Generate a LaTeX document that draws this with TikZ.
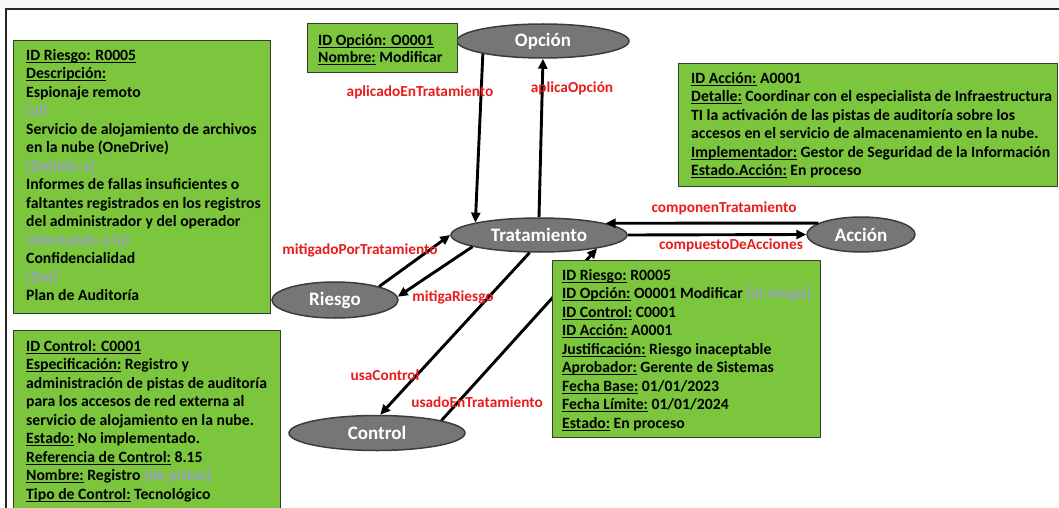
\documentclass[tikz,border=0pt]{standalone}
\usepackage{fontspec}
\setmainfont{Carlito}
\usetikzlibrary{arrows.meta,shapes.geometric}
\definecolor{boxgreen}{RGB}{124,198,62}
\definecolor{boxline}{RGB}{55,60,50}
\definecolor{nodegray}{RGB}{118,118,118}
\definecolor{nodeline}{RGB}{60,60,60}
\definecolor{relred}{RGB}{232,28,28}
\definecolor{note}{RGB}{150,162,188}
% field names: underline at a fixed depth just below the baseline
\newsavebox\fldbox
\newcommand{\fld}[1]{\sbox\fldbox{#1}\rlap{\rule[-2.3pt]{\wd\fldbox}{0.9pt}}\usebox\fldbox}
\newcommand{\nota}[1]{{\color{note}#1}}

\begin{document}
\begin{tikzpicture}[x=1pt,y=-1pt,
  card/.style={draw=boxline, line width=1.2pt, fill=boxgreen, inner sep=0pt, anchor=north west},
  cardtext/.style={anchor=north west, inner sep=0pt, align=left,
                   font=\fontsize{15.7}{18.5}\selectfont\bfseries},
  entity/.style={ellipse, draw=nodeline, line width=1.5pt, fill=nodegray, text=white,
                 font=\fontsize{19}{22}\selectfont\bfseries, inner sep=0pt},
  rel/.style={-{Triangle[length=10pt,width=9pt]}, line width=2.9pt},
  rellabel/.style={text=relred, font=\fontsize{15.3}{17}\selectfont\bfseries, inner sep=0pt}
]
% canvas and frame
\useasboundingbox (0,0) rectangle (1059,508);
\fill[white] (0,0) rectangle (1059,508);
\fill[gray!6] (0,0) rectangle (1059,9);
\draw[line width=1.5pt, black!85] (5,9) -- (1059,9);
\draw[line width=1.5pt, black!85] (6,9) -- (6,508);

% entities
\node[entity, minimum width=172pt, minimum height=34pt] (opcion)  at (543,41)    {Opción};
\node[entity, minimum width=176pt, minimum height=34pt] (trat)    at (539,235)   {Tratamiento};
\node[entity, minimum width=126pt, minimum height=36pt] (riesgo)  at (335,300)   {Riesgo};
\node[entity, minimum width=176pt, minimum height=35pt] (control) at (377,433)   {Control};
\node[entity, minimum width=108pt, minimum height=35pt] (accion)  at (861,234.5) {Acción};

% relations
\draw[rel] (opcion.192) -- (trat.169);
\draw[rel] (trat.north) -- (opcion.south);
\draw[rel] (riesgo.17) -- (trat.west);
\draw[rel] (trat.190) -- (riesgo.3);
\draw[rel] (trat.242) -- (control.80);
\draw[rel] (control.11) -- (trat.347);
\draw[rel] (accion.165) -- (trat.10);
\draw[rel] (trat.east) -- (accion.west);

% relation names
\node[rellabel] (l1) at (420,92)  {aplicadoEnTratamiento};
\node[rellabel] (l2) at (572,88)  {aplicaOpción};
\node[rellabel] (l3) at (360,250) {mitigadoPorTratamiento};
\node[rellabel] (l4) at (453,297) {mitigaRiesgo};
\node[rellabel] (l5) at (385,375) {usaControl};
\node[rellabel] (l6) at (477,402) {usadoEnTratamiento};
\node[rellabel] (l7) at (724,208) {componenTratamiento};
\node[rellabel] (l8) at (731,245) {compuestoDeAcciones};

% risk card
\node[card, minimum width=257pt, minimum height=273pt] (riskcard) at (13,40) {};
\node[cardtext] (risktext) at (26,49) {%
\fld{ID Riesgo: R0005}\\
\fld{Descripción:}\\
Espionaje remoto\\
\nota{[al]}\\
Servicio de alojamiento de archivos\\
en la nube (OneDrive)\\
\nota{[Debido a]}\\
Informes de fallas insuficientes o\\
faltantes registrados en los registros\\
del administrador y del operador\\
\nota{[Afectando a la]}\\
Confidencialidad\\
\nota{[Del]}\\
Plan de Auditoría};

% control card
\node[card, minimum width=267pt, minimum height=180pt] (ctrlcard) at (13,330) {};
\node[cardtext] (ctrltext) at (26,340) {%
\fld{ID Control: C0001}\\
\fld{Especificación:} Registro y\\
administración de pistas de auditoría\\
para los accesos de red externa al\\
servicio de alojamiento en la nube.\\
\fld{Estado:} No implementado.\\
\fld{Referencia de Control:} 8.15\\
\fld{Nombre:} Registro \nota{(de pistas)}\\
\fld{Tipo de Control:} Tecnológico};

% option card
\node[card, minimum width=150pt, minimum height=49pt] (optcard) at (307,23) {};
\node[cardtext, font=\fontsize{15.7}{17}\selectfont\bfseries] (opttext) at (318,34) {%
\fld{ID Opción: O0001}\\
\fld{Nombre:} Modificar};

% action card
\node[card, minimum width=379pt, minimum height=123pt] (actcard) at (678,63) {};
\node[cardtext] (acttext) at (691,72) {%
\fld{ID Acción:} A0001\\
\fld{Detalle:} Coordinar con el especialista de Infraestructura\\
TI la activación de las pistas de auditoría sobre los\\
accesos en el servicio de almacenamiento en la nube.\\
\fld{Implementador:} Gestor de Seguridad de la Información\\
\fld{Estado.Acción:} En proceso};

% treatment card
\node[card, minimum width=268pt, minimum height=177pt] (tratcard) at (552,260) {};
\node[cardtext] (trattext) at (562,269) {%
\fld{ID Riesgo:} R0005\\
\fld{ID Opción:} O0001 Modificar \nota{[al riesgo]}\\
\fld{ID Control:} C0001\\
\fld{ID Acción:} A0001\\
\fld{Justificación:} Riesgo inaceptable\\
\fld{Aprobador:} Gerente de Sistemas\\
\fld{Fecha Base:} 01/01/2023\\
\fld{Fecha Límite:} 01/01/2024\\
\fld{Estado:} En proceso};
\end{tikzpicture}
\end{document}
